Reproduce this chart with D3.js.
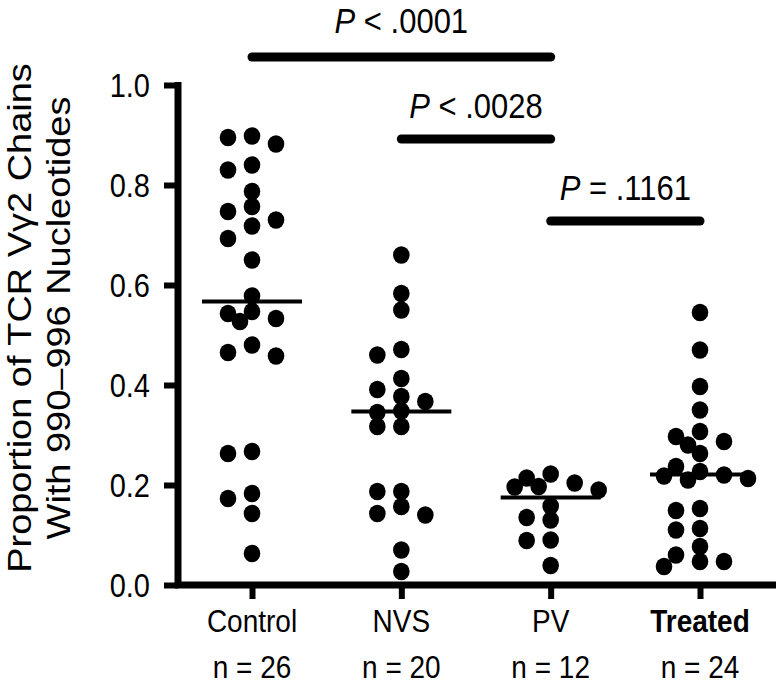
<!DOCTYPE html>
<html><head><meta charset="utf-8">
<script src="https://cdn.jsdelivr.net/npm/d3@7"></script>
<style>body{margin:0;background:#fff}svg{display:block}</style>
</head><body>
<svg id="chart" width="778" height="687"></svg>
<script>
// ---- data ----
const categories = ["Control", "NVS", "PV", "Treated"];
const nLabels = ["n = 26", "n = 20", "n = 12", "n = 24"];
const controlValues = [0.898, 0.895, 0.882, 0.84, 0.83, 0.787, 0.757, 0.747, 0.73, 0.718, 0.693, 0.65,
  0.578, 0.547, 0.543, 0.533, 0.527, 0.48, 0.465, 0.458, 0.267, 0.263, 0.183, 0.173, 0.143, 0.063];
const nvsValues = [0.66, 0.583, 0.55, 0.471, 0.46, 0.413, 0.391, 0.377, 0.367, 0.348, 0.345,
  0.317, 0.317, 0.187, 0.187, 0.157, 0.143, 0.14, 0.07, 0.027];
const pvValues = [0.222, 0.214, 0.204, 0.197, 0.196, 0.19, 0.158, 0.135, 0.13, 0.09, 0.089, 0.039];
const treatedValues = [0.545, 0.47, 0.397, 0.35, 0.307, 0.297, 0.287, 0.28, 0.263, 0.237, 0.227, 0.22,
  0.218, 0.213, 0.21, 0.153, 0.149, 0.113, 0.11, 0.077, 0.06, 0.047, 0.047, 0.037];
const medians = [0.567, 0.347, 0.175, 0.221];
const yTicks = [0.0, 0.2, 0.4, 0.6, 0.8, 1.0];
const yTitle = ["Proportion of TCR V\u03b32 Chains", "With 990\u2013996 Nucleotides"];
const pFrom = ["Control", "NVS", "PV"];
const pTo = ["PV", "PV", "Treated"];
const pText = [" < .0001", " < .0028", " = .1161"];
const pLevel = [0, 1, 2];

const groups = [controlValues, nvsValues, pvValues, treatedValues];

// ---- layout ----
const svg = d3.select("#chart");
const FONT = "'Liberation Sans', Arial, Helvetica, sans-serif";
const STRETCH = 1.15;
const x = d3.scalePoint().domain(categories).range([252, 700]);
const y = d3.scaleLinear().domain([0, 1]).range([585, 85]);
const levelY = d3.scaleLinear().domain([0, 2]).range([57, 221]);

// y axis
const yAxis = svg.append("g").attr("transform", "translate(178,0)")
  .call(d3.axisLeft(y).tickValues(yTicks).tickFormat(d3.format(".1f")).tickSize(14).tickSizeOuter(0).tickPadding(14));
yAxis.select(".domain").attr("stroke", "#000").attr("stroke-width", 7).attr("d", `M0,${y(1)-3}V${y(0)}`);
yAxis.selectAll(".tick line").attr("stroke", "#000").attr("stroke-width", 6);
yAxis.selectAll(".tick text").attr("font-family", FONT).attr("font-size", 29).attr("fill", "#000")
  .attr("dy", "0.34em").attr("transform", `scale(1,${STRETCH})`);

// x axis
svg.append("line").attr("x1", 175).attr("x2", 776).attr("y1", y(0)).attr("y2", y(0))
  .attr("stroke", "#000").attr("stroke-width", 7);
const xAxis = svg.append("g").attr("transform", `translate(0,${y(0)})`)
  .call(d3.axisBottom(x).tickSize(14).tickFormat(""));
xAxis.select(".domain").remove();
xAxis.selectAll(".tick line").attr("stroke", "#000").attr("stroke-width", 6);

function hText(g, tx, ty, size) {
  return g.append("text").attr("transform", `translate(${tx},${ty}) scale(1,${STRETCH})`)
    .attr("text-anchor", "middle").attr("font-family", FONT).attr("font-size", size);
}
const lg = svg.append("g");
categories.forEach((c, i) => {
  hText(lg, x(c), 632, 28).attr("font-weight", c === "Treated" ? "bold" : "normal").text(c);
  hText(lg, x(c), 678, 28).text(nLabels[i]);
});

// y title
const tg = svg.append("g").attr("transform", `translate(0,318) rotate(-90) scale(${STRETCH},1)`);
tg.selectAll("text").data(yTitle).join("text")
  .attr("x", 0).attr("y", (d, i) => 31 + i * 39).attr("text-anchor", "middle")
  .attr("font-family", FONT).attr("font-size", 33).text(d => d);

// beeswarm placement
function swarm(vals) {
  const step = 24, minD = 14;
  const order = [0, -1, 1, -0.5, 0.5, -1.5, 1.5, -2, 2, -2.5, 2.5];
  const placed = [];
  vals.slice().sort((a, b) => b - a).forEach(v => {
    const py = y(v);
    for (const o of order) {
      const dx = o * step;
      if (placed.every(p => Math.hypot(p.dx - dx, p.py - py) >= minD)) { placed.push({v, dx, py}); break; }
    }
  });
  return placed;
}

groups.forEach((vals, gi) => {
  const cx = x(categories[gi]);
  svg.append("g").selectAll("ellipse").data(swarm(vals)).join("ellipse")
    .attr("cx", d => cx + d.dx).attr("cy", d => y(d.v)).attr("rx", 8.3).attr("ry", 8.8).attr("fill", "#000");
});

// medians
svg.append("g").selectAll("line").data(medians).join("line")
  .attr("x1", (d, i) => x(categories[i]) - 50).attr("x2", (d, i) => x(categories[i]) + 50)
  .attr("y1", d => y(d)).attr("y2", d => y(d)).attr("stroke", "#000").attr("stroke-width", 4);

// significance bars
const pg = svg.append("g");
pFrom.forEach((f, i) => {
  const ly = levelY(pLevel[i]);
  const x1 = x(f), x2 = x(pTo[i]);
  pg.append("line").attr("x1", x1).attr("x2", x2).attr("y1", ly).attr("y2", ly)
    .attr("stroke", "#000").attr("stroke-width", 9).attr("stroke-linecap", "round");
  const t = hText(pg, (x1 + x2) / 2, ly - (i === 0 ? 24 : 21), 31);
  t.append("tspan").attr("font-style", "italic").text("P");
  t.append("tspan").text(pText[i]);
});
</script>
</body></html>
